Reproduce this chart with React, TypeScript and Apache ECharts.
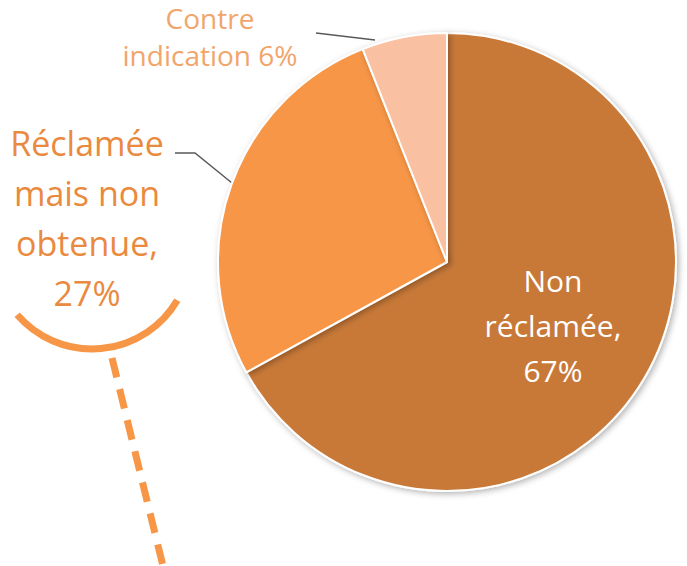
import React, { useEffect, useRef } from "react";
import * as echarts from "echarts";

const categories = ["Non réclamée", "Réclamée mais non obtenue", "Contre indication"];
const values = [67, 27, 6];
const labelTexts = ["Non\nréclamée,\n67%", "Réclamée\nmais non\nobtenue,\n27%", "Contre\nindication 6%"];
const colors = ["#C87938", "#F79646", "#F9C0A1"];

export default function App() {
  const ref = useRef<HTMLDivElement>(null);
  useEffect(() => {
    if (!ref.current) return;
    const chart = echarts.init(ref.current, null, { renderer: "svg" });
    const font = "'Open Sans', Lato, sans-serif";
    const labelStyles: any[] = [
      { position: "inside", color: "#FFFFFF", fontSize: 30, lineHeight: 45 },
      { position: "outside", color: "#E98A3F", fontSize: 34, lineHeight: 50 },
      { position: "outside", color: "#F1A56B", fontSize: 28, lineHeight: 37 },
    ];
    const layouts: any[] = [
      { x: 553, y: 325, align: "center", verticalAlign: "middle" },
      { x: 87, y: 218, align: "center", verticalAlign: "middle", labelLinePoints: [[232, 183], [195, 153], [175, 153]] },
      { x: 210, y: 36, align: "center", verticalAlign: "middle", labelLinePoints: [[375, 40], [316, 33]] },
    ];
    chart.setOption({
      animation: false,
      backgroundColor: "#FFFFFF",
      series: [
        {
          type: "pie",
          center: [447, 262],
          radius: 229,
          startAngle: 90,
          clockwise: true,
          avoidLabelOverlap: false,
          itemStyle: {
            borderColor: "#FFFFFF",
            borderWidth: 2,
            shadowBlur: 6,
            shadowColor: "rgba(0,0,0,0.3)",
            shadowOffsetX: 2,
            shadowOffsetY: 2,
          },
          labelLine: { show: true, lineStyle: { color: "#595959", width: 1.5 } },
          labelLayout: (params: any) => layouts[params.dataIndex],
          data: categories.map((name, i) => ({
            name,
            value: values[i],
            itemStyle: { color: colors[i] },
            label: {
              show: true,
              formatter: labelTexts[i],
              fontFamily: font,
              align: "center",
              ...labelStyles[i],
            },
            labelLine: { show: i !== 0 },
          })),
        },
      ],
      graphic: [
        {
          type: "arc",
          shape: { cx: 92, cy: 250, r: 99, startAngle: 0.532, endAngle: 2.428, clockwise: true },
          style: { stroke: "#F79646", lineWidth: 7, fill: "none" },
        },
        {
          type: "line",
          shape: { x1: 112, y1: 358, x2: 163, y2: 566 },
          style: { stroke: "#F79646", lineWidth: 7, lineDash: [20, 12] },
        },
      ],
    });
    return () => chart.dispose();
  }, []);
  return (
    <div
      ref={ref}
      style={{ position: "fixed", left: 0, top: 0, width: 687, height: 566 }}
    />
  );
}
